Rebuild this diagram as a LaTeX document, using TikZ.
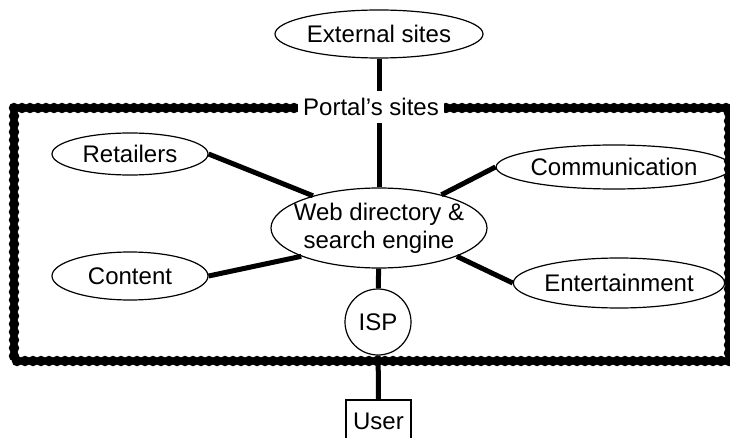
\documentclass[tikz,border=0pt]{standalone}
\usepackage{fontspec}
\setmainfont{Liberation Sans}
\usetikzlibrary{shapes.geometric}
\begin{document}
\begin{tikzpicture}[x=1pt,y=-1pt,
  every node/.style={font=\fontsize{24}{28}\selectfont},
  ell/.style={draw, ellipse, inner sep=0pt, line width=1.2pt},
  conn/.style={line width=5pt},
  beads/.style={line width=10.5pt, line cap=round, dash pattern=on 0pt off 8pt}]
\useasboundingbox (0,0) rectangle (730,438);
\clip (0,0) rectangle (730,438);
% nodes
\node[ell, minimum width=208pt, minimum height=48pt] (ext) at (379,34) {External sites};
\node[ell, minimum width=156pt, minimum height=42pt] (ret) at (130,154) {Retailers};
\node[ell, minimum width=206pt, minimum height=44pt] (comm) at (614,167) {Communication};
\node[ell, minimum width=156pt, minimum height=48pt] (cont) at (130,276) {Content};
\node[ell, minimum width=196pt, minimum height=50pt] (ent) at (619,283) {Entertainment};
\node[ell, minimum width=216pt, minimum height=80pt,
  label={[align=center]center:Web directory \&\\search engine}] (web) at (379,228) {};
\node[draw, circle, line width=1.2pt, minimum size=66pt, inner sep=0pt] (isp) at (378,322) {ISP};
\node[draw, line width=1.2pt, minimum width=65pt, minimum height=42pt, inner sep=0pt] (user) at (378.5,421) {User};
% connectors
\draw[conn] (ext) -- (web);
\draw[conn] (ret.east) -- (web.154);
\draw[conn] (comm.west) -- (web.28);
\draw[conn] (cont.east) -- (web.200);
\draw[conn] (ent.west) -- (web.340);
\draw[conn] (web) -- (isp);
\draw[conn] (isp) -- (user);
% portal border
\draw[beads] (14,108) rectangle (729,361);
\node[fill=white, inner xsep=5pt, inner ysep=7pt] (portal) at (371,107) {Portal's sites};
\end{tikzpicture}
\end{document}
